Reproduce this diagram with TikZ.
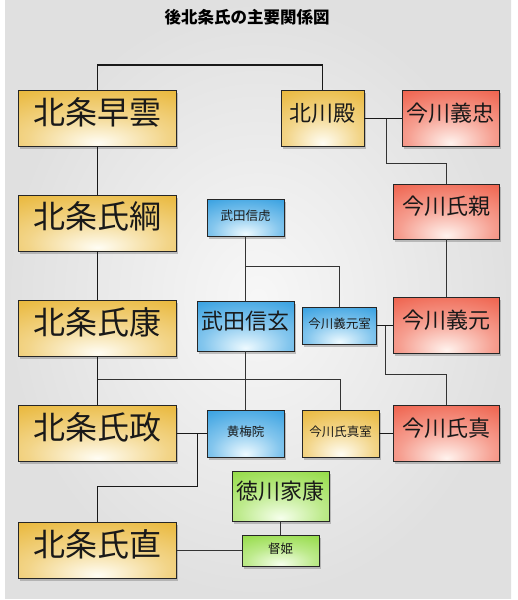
\documentclass[tikz,border=0pt]{standalone}
\usepackage{fontspec}
\setmainfont{Noto Sans CJK JP}
\usepackage{tikz}
\usetikzlibrary{shadows}
\definecolor{goldedge}{HTML}{E8B431}
\definecolor{goldmid}{HTML}{FFFDF4}
\definecolor{rededge}{HTML}{EE5A44}
\definecolor{redmid}{HTML}{FFF3EE}
\definecolor{blueedge}{HTML}{2C9BDF}
\definecolor{bluemid}{HTML}{EEFAFF}
\definecolor{greenedge}{HTML}{8ED93C}
\definecolor{greenmid}{HTML}{F6FFEC}
\definecolor{panel}{HTML}{E0E0E0}
\colorlet{boxmid}{goldmid}
\colorlet{boxedge}{goldedge}
\pgfdeclareradialshading[boxmid,boxedge]{glow}{\pgfpoint{0bp}{-22bp}}{%
    color(0bp)=(boxmid); color(22bp)=(boxmid!45!boxedge);
    color(48bp)=(boxedge); color(100bp)=(boxedge)}

\begin{document}
\begin{tikzpicture}[x=1pt, y=-1pt]
        \tikzset{person/.style = {shape=rectangle, draw=black!85, line width=0.9pt,
                inner sep=0pt, text=black!90, shading=glow,
                drop shadow={shadow xshift=1.5pt, shadow yshift=-2.5pt, opacity=0.45}}}
        \tikzset{paint/.style 2 args = {/utils/exec={\colorlet{boxmid}{#1}\colorlet{boxedge}{#2}}}}
        \tikzset{hojo/.style = {paint={goldmid}{goldedge}, person,
                minimum width=158pt, minimum height=56pt, text depth=15pt,
                font=\fontsize{32}{32}\selectfont}}
        \tikzset{gold/.style = {paint={goldmid}{goldedge}, person}}
        \tikzset{imagawa/.style = {paint={redmid}{rededge}, person, big,
                minimum width=106pt, minimum height=56pt}}
        \tikzset{takeda/.style = {paint={bluemid}{blueedge}, person}}
        \tikzset{tokugawa/.style = {paint={greenmid}{greenedge}, person}}
        \tikzset{big/.style = {font=\fontsize{22}{22}\selectfont, text depth=12pt}}
        \tikzset{small/.style = {font=\fontsize{12.5}{12.5}\selectfont, text depth=5.5pt}}
        \tikzset{link/.style = {-, draw=black!90, line width=1.8pt}}
        \tikzset{thin link/.style = {-, draw=black!80, line width=1.2pt}}

        \useasboundingbox (0, 0) rectangle (518, 600);
        \fill[white] (0, 0) rectangle (518, 600);
        \shade[inner color=white!97!black, outer color=panel] (5, 0) rectangle (511, 598);

        \node[font=\bfseries\fontsize{16.5}{16.5}\selectfont] (title) at (247, 17) {後北条氏の主要関係図};

        \node[hojo] (soun) at (97.5, 118.5) {北条早雲};
        \node[hojo] (ujitsuna) at (97.5, 223) {北条氏綱};
        \node[hojo] (ujiyasu) at (97.5, 328.5) {北条氏康};
        \node[hojo] (ujimasa) at (97.5, 433.5) {北条氏政};
        \node[hojo] (ujinao) at (97.5, 550.5) {北条氏直};

        \node[gold, big, minimum width=83pt, minimum height=56pt] (kitagawa) at (322.5, 118.5) {北川殿};
        \node[gold, small, minimum width=77pt, minimum height=47pt] (ujizaneshitsu) at (340.5, 433.5) {今川氏真室};

        \node[imagawa, minimum width=97pt] (yoshitada) at (450.5, 118.5) {今川義忠};
        \node[imagawa, minimum height=55pt] (ujichika) at (446.5, 211.5) {今川氏親};
        \node[imagawa] (yoshimoto) at (446.5, 325.5) {今川義元};
        \node[imagawa] (ujizane) at (446.5, 433.5) {今川氏真};

        \node[takeda, small, minimum width=77pt, minimum height=37pt] (nobutora) at (245.5, 217.5) {武田信虎};
        \node[takeda, big, minimum width=97pt, minimum height=50pt] (shingen) at (245.5, 326) {武田信玄};
        \node[takeda, small, minimum width=74pt, minimum height=37pt] (yoshimotoshitsu) at (339.5, 325.5) {今川義元室};
        \node[takeda, small, minimum width=77pt, minimum height=47pt] (obaiin) at (245.5, 433.5) {黄梅院};

        \node[tokugawa, big, minimum width=97pt, minimum height=50pt] (ieyasu) at (280.5, 496) {徳川家康};
        \node[tokugawa, small, minimum width=77pt, minimum height=31pt] (tokuhime) at (280.5, 550.5) {督姫};

        \coordinate (c1) at (386.5, 118.5);
        \coordinate (c2) at (245.5, 266.5);
        \coordinate (c3) at (385.5, 325.5);
        \coordinate (c4) at (97.5, 379.5);
        \coordinate (c5) at (197.5, 433.5);

        \draw[link] (soun.north) -- ++(0, -25) -| (kitagawa.north);
        \draw[link] (soun.south) to (ujitsuna.north);
        \draw[link] (ujitsuna.south) to (ujiyasu.north);
        \draw[link] (ujiyasu.south) to (ujimasa.north);
        \draw[link] (kitagawa.east) to (yoshitada.west);
        \draw[thin link] (c1) -- ++(0, 45) -| (ujichika.north);
        \draw[thin link] (ujichika.south) to (yoshimoto.north);

        \draw[thin link] (nobutora.south) to (shingen.north);
        \draw[thin link] (c2) -| (yoshimotoshitsu.north);
        \draw[link] (yoshimotoshitsu.east) to (yoshimoto.west);
        \draw[thin link] (c3) -- ++(0, 49) -| (ujizane.north);

        \draw[thin link] (c4) -| (ujizaneshitsu.north);
        \draw[thin link] (shingen.south) to (obaiin.north);
        \draw[link] (ujimasa.east) to (obaiin.west);
        \draw[link] (c5) -- ++(0, 53) -| (ujinao.north);
        \draw[link] (ujizaneshitsu.east) to (ujizane.west);

        \draw[thin link] (ieyasu.south) to (tokuhime.north);
        \draw[thin link] (ujinao.east) to (tokuhime.west);
\end{tikzpicture}
\end{document}
